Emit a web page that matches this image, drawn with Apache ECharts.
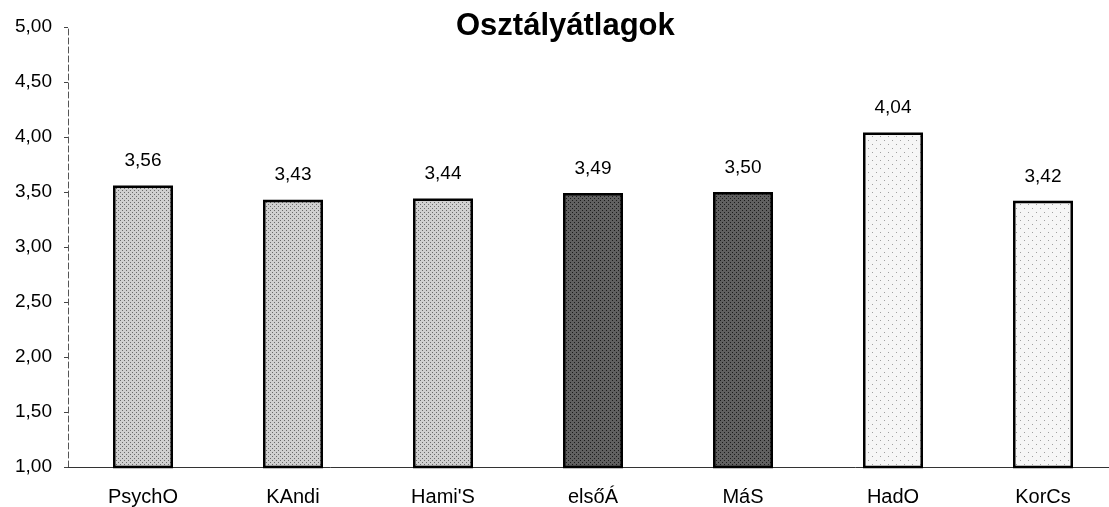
<!DOCTYPE html>
<html><head><meta charset="utf-8">
<script src="https://cdn.jsdelivr.net/npm/echarts@6/dist/echarts.min.js"></script>
<style>html,body{margin:0;padding:0;background:#fff;overflow:hidden}#c{width:1118px;height:507px}</style>
</head><body><div id="c"></div>
<script>
const categories = ["PsychO", "KAndi", "Hami'S", "elsőÁ", "MáS", "HadO", "KorCs"];
const values = [3.56, 3.43, 3.44, 3.49, 3.50, 4.04, 3.42];
const shades = ["mid", "mid", "mid", "dark", "dark", "light", "light"];
const yTicks = [1.0, 1.5, 2.0, 2.5, 3.0, 3.5, 4.0, 4.5, 5.0];

function pattern(bg, fg, step) {
  const c = document.createElement('canvas');
  c.width = step * 2; c.height = step * 2;
  const g = c.getContext('2d');
  g.fillStyle = bg; g.fillRect(0, 0, c.width, c.height);
  g.fillStyle = fg;
  g.fillRect(0, 0, 1, 1);
  g.fillRect(step, step, 1, 1);
  return c;
}
const fills = {
  mid: {image: pattern('#d0d0d0', '#6a6a6a', 2), repeat: 'repeat'},
  dark: {image: pattern('#606060', '#1a1a1a', 2), repeat: 'repeat'},
  light: {image: pattern('#f6f6f6', '#a0a0a0', 4), repeat: 'repeat'}
};

const chart = echarts.init(document.getElementById('c'), null, {renderer: 'canvas'});
chart.setOption({
  animation: false,
  backgroundColor: '#fff',
  title: {
    text: 'Osztályátlagok', left: 451, top: 6,
    textStyle: {fontFamily: 'Liberation Sans, Arial', fontWeight: 'bold', fontSize: 31, color: '#000'}
  },
  grid: {left: 68, right: 0, top: 27, bottom: 40},
  xAxis: {
    type: 'category', data: categories,
    axisLine: {lineStyle: {color: '#333', width: 1}},
    axisTick: {show: false},
    axisLabel: {fontFamily: 'Liberation Sans, Arial', fontSize: 20, color: '#000', margin: 20}
  },
  yAxis: {
    type: 'value', min: yTicks[0], max: yTicks[yTicks.length - 1], interval: 0.5,
    axisLine: {show: true, lineStyle: {color: '#555', width: 1, type: [6, 3]}},
    axisTick: {show: true, length: 4, lineStyle: {color: '#444'}},
    splitLine: {show: false},
    axisLabel: {
      fontFamily: 'Liberation Sans, Arial', fontSize: 19, color: '#000', margin: 16,
      formatter: v => v.toFixed(2).replace('.', ',')
    }
  },
  series: [{
    type: 'bar', barWidth: 60,
    data: values.map((v, i) => ({value: v, itemStyle: {color: fills[shades[i]]}})),
    itemStyle: {borderColor: '#000', borderWidth: 2.5},
    label: {
      show: true, position: 'top', distance: 15,
      fontFamily: 'Liberation Sans, Arial', fontSize: 19, color: '#000',
      formatter: p => p.value.toFixed(2).replace('.', ',')
    }
  }]
});
</script></body></html>
